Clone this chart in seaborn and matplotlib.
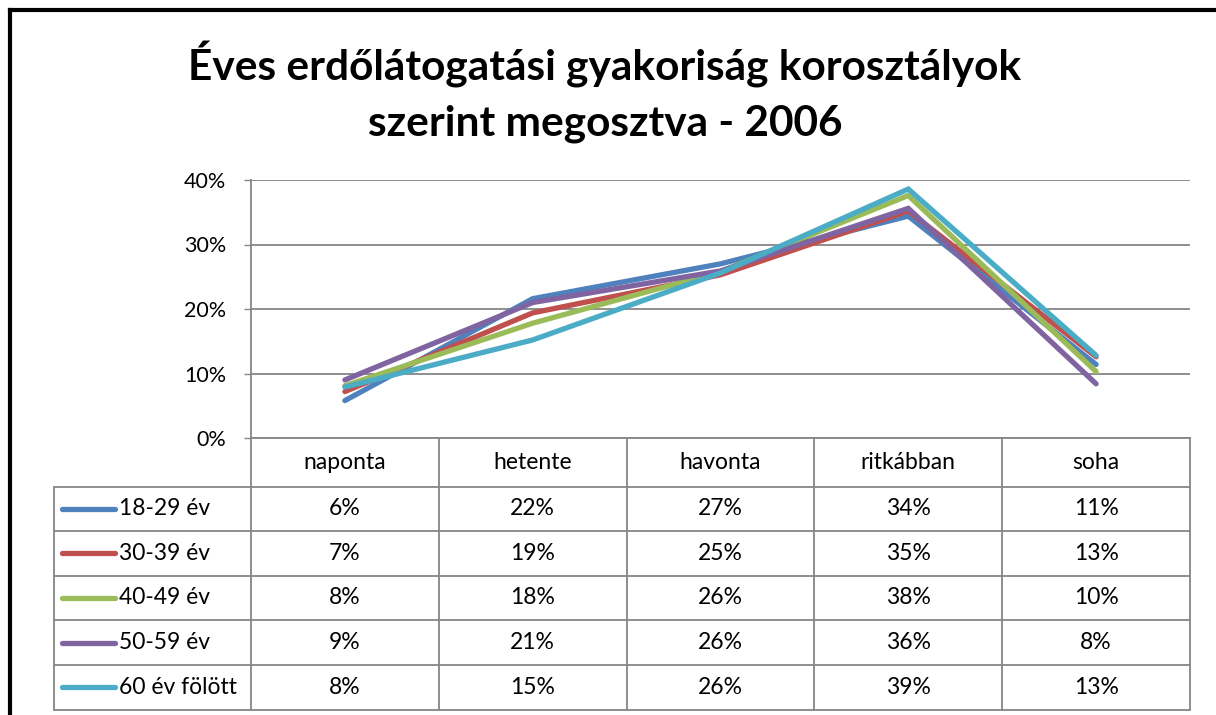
import numpy as np
import pandas as pd
import seaborn as sns
import matplotlib.pyplot as plt
from matplotlib.ticker import FuncFormatter

# Adatok
categories = ['naponta', 'hetente', 'havonta', 'ritkábban', 'soha']
groups = ['18-29 év', '30-39 év', '40-49 év', '50-59 év', '60 év fölött']
v_18_29 = [5.8, 21.6, 27.0, 34.4, 11.4]
v_30_39 = [7.2, 19.4, 25.3, 35.2, 12.6]
v_40_49 = [8.1, 17.8, 25.8, 37.6, 10.3]
v_50_59 = [9.0, 21.0, 25.9, 35.6, 8.4]
v_60_plus = [7.9, 15.2, 25.6, 38.6, 12.8]
colors = ['#4F81BD', '#C0504D', '#9BBB59', '#8064A2', '#4BACC6']
y_ticks = [0, 10, 20, 30, 40]

series = [v_18_29, v_30_39, v_40_49, v_50_59, v_60_plus]
df = pd.DataFrame({
    'pos': np.tile(np.arange(len(categories)), len(groups)),
    'value': np.concatenate(series),
    'group': np.repeat(groups, len(categories)),
})

sns.set_theme(style='white')
plt.rcParams['font.family'] = ['Lato', 'DejaVu Sans']
plt.rcParams['text.color'] = 'black'

W, H = 1216, 715
grey = '#868686'
fig = plt.figure(figsize=(W / 100, H / 100), dpi=100)


def fx(px):
    return px / W


def fy(py):
    return 1 - py / H


# pixel-coordinate overlay for frame and data table
bg = fig.add_axes([0, 0, 1, 1])
bg.set_xlim(0, W)
bg.set_ylim(H, 0)
bg.axis('off')

# plot area
x0, x1, y_top, y_bot = 251, 1190, 180, 438
ax = fig.add_axes([fx(x0), fy(y_bot), fx(x1) - fx(x0), fy(y_top) - fy(y_bot)])
sns.lineplot(data=df, x='pos', y='value', hue='group', palette=colors,
             hue_order=groups, sort=False, legend=False, lw=3.8,
             solid_capstyle='round', solid_joinstyle='miter', ax=ax)
ax.set_xlim(-0.5, len(categories) - 0.5)
ax.set_ylim(0, 40)
ax.set_yticks(y_ticks)
ax.yaxis.set_major_formatter(FuncFormatter(lambda v, p: f'{v:.0f}%'))
ax.set_xticks([])
ax.set_xlabel('')
ax.set_ylabel('')
ax.yaxis.grid(True, color=grey, lw=1.3)
ax.set_axisbelow(True)
for s in ['top', 'right']:
    ax.spines[s].set_visible(False)
for s in ['left', 'bottom']:
    ax.spines[s].set_color(grey)
    ax.spines[s].set_linewidth(1.3)
ax.tick_params(axis='y', left=True, length=5, width=1.0, color=grey,
               direction='out', labelsize=15.5, pad=13, labelcolor='black')

# data table
col_w = (x1 - x0) / len(categories)
tab_left = 54
row_top = 486.5
row_h = 44.6
n_rows = len(groups)
tab_bot = row_top + n_rows * row_h
tcol = grey
fs = 16.5
# column separators (header + body)
for k in range(len(categories) + 1):
    bg.plot([x0 + k * col_w] * 2, [y_bot, tab_bot], color=tcol, lw=1.3)
bg.plot([tab_left, tab_left], [row_top, tab_bot], color=tcol, lw=1.3)
for r in range(n_rows + 1):
    yy = row_top + r * row_h
    bg.plot([tab_left, x1], [yy, yy], color=tcol, lw=1.3)

for k, cat in enumerate(categories):
    bg.text(x0 + (k + 0.5) * col_w, (y_bot + row_top) / 2, cat,
            ha='center', va='center', fontsize=fs)

for r, (g, vals, c) in enumerate(zip(groups, series, colors)):
    yc = row_top + (r + 0.5) * row_h
    bg.plot([62, 115], [yc, yc], color=c, lw=3.8, solid_capstyle='round')
    bg.text(119, yc, g, ha='left', va='center', fontsize=fs)
    for k, v in enumerate(vals):
        bg.text(x0 + (k + 0.5) * col_w, yc, f'{int(v + 0.5)}%',
                ha='center', va='center', fontsize=fs)

# outer frame (cropped screenshot: only top and left edges)
bg.plot([9.5, 9.5], [H, 9.5], color='black', lw=3, solid_capstyle='projecting')
bg.plot([9.5, W], [9.5, 9.5], color='black', lw=3, solid_capstyle='projecting')

fig.text(fx(605), fy(92), 'Éves erdőlátogatási gyakoriság korosztályok\nszerint megosztva - 2006',
         ha='center', va='center', fontsize=30.5, fontweight='bold', linespacing=1.55)

fig.savefig('out.png', dpi=100, facecolor='white')
